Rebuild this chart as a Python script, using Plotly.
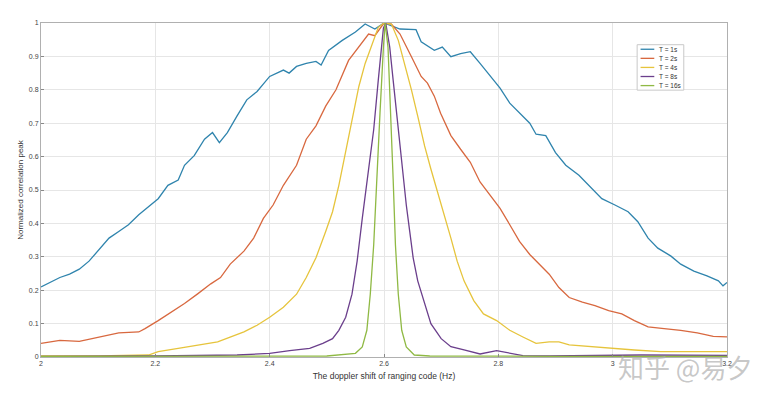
import plotly.graph_objects as go

# T = 1s
x1 = [2.0, 2.016, 2.033, 2.05, 2.067, 2.084, 2.102, 2.119, 2.136, 2.153, 2.171, 2.188, 2.205, 2.222,
      2.24, 2.251, 2.268, 2.286, 2.3, 2.312, 2.326, 2.343, 2.36, 2.378, 2.4, 2.424, 2.434, 2.447, 2.464,
      2.481, 2.49, 2.503, 2.527, 2.55, 2.567, 2.584, 2.6,
      2.628, 2.656, 2.665, 2.688, 2.702, 2.717, 2.734, 2.751, 2.768, 2.786, 2.803, 2.82, 2.837, 2.855,
      2.866, 2.883, 2.9, 2.918, 2.941, 2.964, 2.981, 3.004, 3.027, 3.044, 3.062, 3.079, 3.102, 3.119,
      3.142, 3.165, 3.185, 3.193, 3.2]
y1 = [0.21, 0.223, 0.238, 0.248, 0.263, 0.287, 0.322, 0.356, 0.376, 0.396, 0.426, 0.45, 0.474, 0.514,
      0.53, 0.574, 0.603, 0.652, 0.672, 0.642, 0.672, 0.722, 0.77, 0.795, 0.84, 0.859, 0.85, 0.87, 0.879,
      0.885, 0.874, 0.918, 0.948, 0.973, 0.997, 0.982, 1.0,
      0.982, 0.98, 0.944, 0.918, 0.928, 0.899, 0.908, 0.914, 0.879, 0.84, 0.805, 0.76, 0.73, 0.70,
      0.667, 0.663, 0.612, 0.574, 0.544, 0.504, 0.474, 0.455, 0.435, 0.405, 0.356, 0.326, 0.302, 0.278,
      0.257, 0.243, 0.228, 0.213, 0.223]

# T = 2s
x2 = [2.0, 2.033, 2.067, 2.1, 2.136, 2.171, 2.182, 2.205, 2.228, 2.251, 2.274, 2.297, 2.314, 2.331,
      2.355, 2.372, 2.389, 2.406, 2.424, 2.447, 2.464, 2.481, 2.498, 2.516, 2.538, 2.556, 2.573, 2.584,
      2.6, 2.613, 2.628, 2.648, 2.665, 2.676, 2.688, 2.699, 2.717, 2.734, 2.751, 2.768, 2.786, 2.803,
      2.82, 2.837, 2.855, 2.872, 2.889, 2.906, 2.924, 2.947, 2.969, 2.993, 3.016, 3.038, 3.062, 3.09,
      3.119, 3.148, 3.176, 3.2]
y2 = [0.041, 0.05, 0.047, 0.06, 0.072, 0.075, 0.085, 0.109, 0.134, 0.16, 0.189, 0.219, 0.238, 0.278,
      0.317, 0.356, 0.415, 0.455, 0.514, 0.574, 0.652, 0.692, 0.751, 0.80, 0.888, 0.928, 0.967, 0.962,
      1.0, 0.997, 0.967, 0.899, 0.84, 0.82, 0.781, 0.73, 0.663, 0.622, 0.583, 0.524, 0.485, 0.445,
      0.396, 0.346, 0.307, 0.278, 0.248, 0.208, 0.178, 0.164, 0.154, 0.139, 0.129, 0.109, 0.09, 0.085,
      0.08, 0.072, 0.062, 0.06]

# T = 4s
x4 = [2.0, 2.1, 2.188, 2.205, 2.24, 2.274, 2.309, 2.332, 2.355, 2.378, 2.4, 2.424, 2.447, 2.464, 2.481,
      2.498, 2.51, 2.521, 2.533, 2.544, 2.556, 2.567, 2.579, 2.59, 2.6, 2.613, 2.625, 2.636, 2.648,
      2.659, 2.671, 2.682, 2.694, 2.705, 2.717, 2.728, 2.74, 2.757, 2.774, 2.797, 2.82, 2.843, 2.866,
      2.889, 2.906, 2.924, 2.958, 2.993, 3.038, 3.084, 3.142, 3.2]
y4 = [0.003, 0.003, 0.006, 0.016, 0.026, 0.036, 0.045, 0.06, 0.075, 0.095, 0.119, 0.149, 0.188, 0.238,
      0.297, 0.376, 0.435, 0.514, 0.612, 0.711, 0.81, 0.879, 0.938, 0.987, 1.0, 0.997, 0.948, 0.879,
      0.80, 0.721, 0.632, 0.563, 0.494, 0.425, 0.356, 0.287, 0.228, 0.169, 0.129, 0.109, 0.08, 0.06,
      0.041, 0.045, 0.045, 0.036, 0.031, 0.026, 0.021, 0.016, 0.016, 0.016]

# T = 8s
x8 = [2.0, 2.2, 2.343, 2.4, 2.435, 2.47, 2.493, 2.51, 2.521, 2.533, 2.544, 2.553, 2.562, 2.573, 2.582,
      2.59, 2.599, 2.603, 2.61, 2.616, 2.622, 2.628, 2.633, 2.639, 2.645, 2.651, 2.659, 2.671, 2.682,
      2.7, 2.717, 2.74, 2.768, 2.797, 2.82, 2.843, 2.889, 2.95, 3.05, 3.2]
y8 = [0.002, 0.003, 0.006, 0.011, 0.019, 0.026, 0.041, 0.055, 0.08, 0.119, 0.188, 0.287, 0.415, 0.553,
      0.681, 0.829, 0.985, 1.0, 0.928, 0.829, 0.731, 0.632, 0.533, 0.455, 0.376, 0.297, 0.228, 0.159,
      0.10, 0.055, 0.031, 0.021, 0.009, 0.019, 0.011, 0.004, 0.003, 0.004, 0.006, 0.005]

# T = 16s
x16 = [2.0, 2.3, 2.5, 2.55, 2.562, 2.57, 2.576, 2.582, 2.587, 2.593, 2.599, 2.602, 2.607, 2.612, 2.616,
       2.62, 2.625, 2.631, 2.639, 2.653, 2.68, 2.9, 3.2]
y16 = [0.002, 0.002, 0.003, 0.011, 0.03, 0.08, 0.188, 0.336, 0.533, 0.731, 0.928, 1.0, 0.928, 0.731,
       0.533, 0.336, 0.188, 0.08, 0.03, 0.006, 0.003, 0.002, 0.002]

names = ["T = 1s", "T = 2s", "T = 4s", "T = 8s", "T = 16s"]
colors = ["#2f84ad", "#d8683f", "#e6c43c", "#6b3f8c", "#8fb944"]
series = [(x1, y1), (x2, y2), (x4, y4), (x8, y8), (x16, y16)]

x_ticks = [2, 2.2, 2.4, 2.6, 2.8, 3, 3.2]
x_tick_text = ["2", "2.2", "2.4", "2.6", "2.8", "3", "3.2"]
y_ticks = [0, 0.1, 0.2, 0.3, 0.4, 0.5, 0.6, 0.7, 0.8, 0.9, 1]
y_tick_text = ["0", "0.1", "0.2", "0.3", "0.4", "0.5", "0.6", "0.7", "0.8", "0.9", "1"]

fig = go.Figure()
for (xs, ys), n, c in zip(series, names, colors):
    fig.add_trace(go.Scatter(x=xs, y=ys, mode="lines", name=n,
                             line=dict(color=c, width=1.3), showlegend=False))

axis_common = dict(showgrid=True, gridcolor="#e6e6e6", gridwidth=1, showline=True,
                   linecolor="#b0b0b0", linewidth=1, mirror=True, ticks="inside",
                   ticklen=3, tickcolor="#888", zeroline=False,
                   tickfont=dict(family="Liberation Sans, Arial", size=7, color="#444"))

# page body has an 8px margin, so the figure is sized to fit the window
fig.update_layout(
    width=765, height=389,
    margin=dict(l=23, r=46, t=11, b=40),
    paper_bgcolor="white", plot_bgcolor="white",
    font=dict(family="Liberation Sans, Arial", color="#333"),
    xaxis=dict(range=[2, 3.2], tickvals=x_ticks, ticktext=x_tick_text,
               title=dict(text="The doppler shift of ranging code (Hz)",
                          font=dict(size=8.5, color="#333"), standoff=6),
               **axis_common),
    yaxis=dict(range=[0, 1], tickvals=y_ticks, ticktext=y_tick_text,
               title=dict(text="Normalized correlation peak",
                          font=dict(size=8, color="#333"), standoff=4),
               **axis_common),
)

# compact MATLAB-style legend box (built from names/colors)
lx0, lx1, ly_top, ly_bot = 0.869, 0.937, 0.935, 0.799
fig.add_shape(type="rect", xref="paper", yref="paper", x0=lx0, x1=lx1, y0=ly_bot, y1=ly_top,
              line=dict(color="#c8c8c8", width=1), fillcolor="white", layer="above")
step = (ly_top - ly_bot) / len(names)
for i, (n, c) in enumerate(zip(names, colors)):
    yy = ly_top - step * (i + 0.5)
    fig.add_shape(type="line", xref="paper", yref="paper", x0=0.874, x1=0.894, y0=yy, y1=yy,
                  line=dict(color=c, width=1.3), layer="above")
    fig.add_annotation(text=n, xref="paper", yref="paper", x=0.898, y=yy, xanchor="left",
                       yanchor="middle", showarrow=False,
                       font=dict(family="Liberation Sans, Arial", size=6.5, color="#333"))

fig.add_annotation(text="知乎 @易夕", xref="paper", yref="paper", x=1.04, y=-0.027,
                   xanchor="right", yanchor="middle", showarrow=False,
                   font=dict(family="Noto Sans CJK SC", size=26, color="rgba(175,175,175,0.7)"))

fig.write_html("out.html")
